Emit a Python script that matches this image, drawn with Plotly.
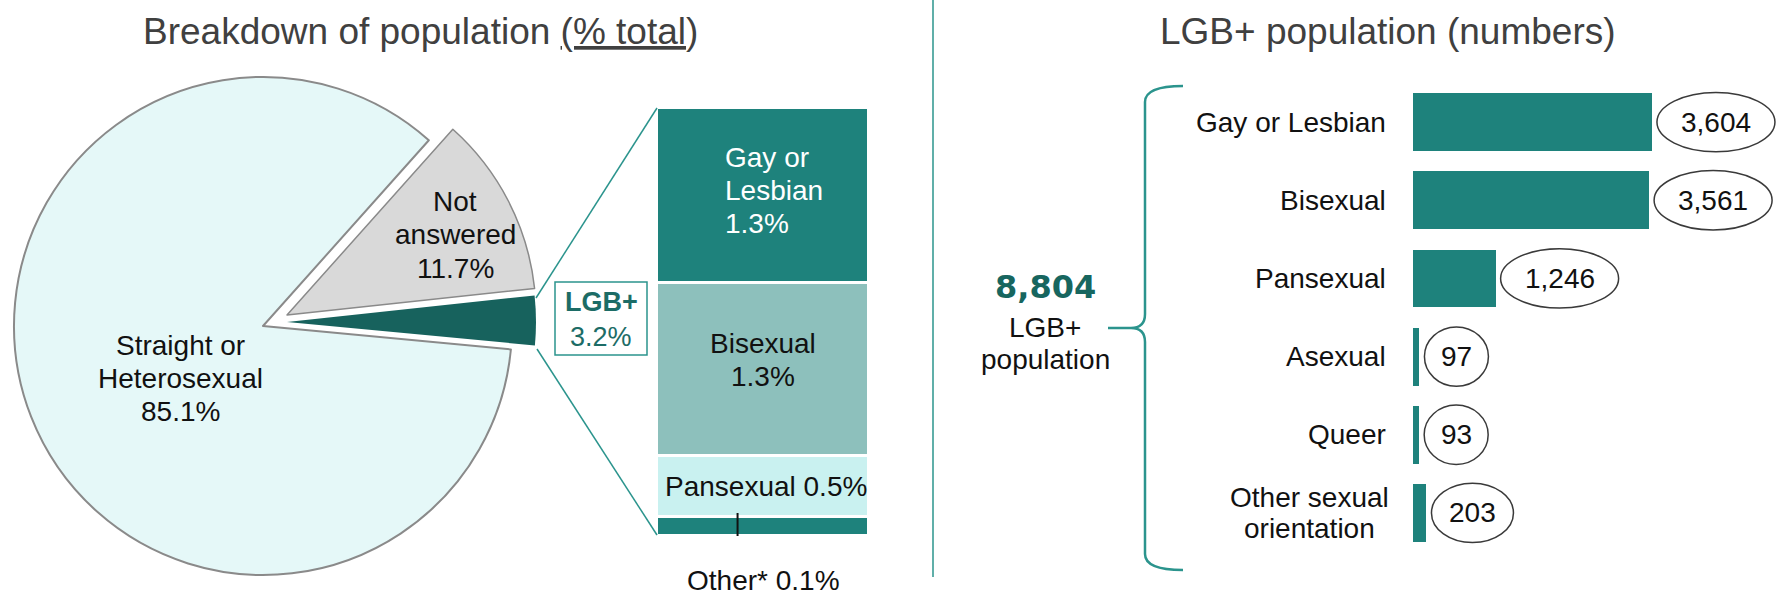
import plotly.graph_objects as go

W, H = 1777, 597

# ---------------- data ----------------
pie_labels = ["Straight or Heterosexual", "LGB+", "Not answered"]
pie_values = [85.1, 3.2, 11.7]
pie_text = [["Straight or", "Heterosexual", "85.1%"], ["<b>LGB+</b>", "3.2%"], ["Not", "answered", "11.7%"]]

stack_labels = ["Gay or Lesbian", "Bisexual", "Pansexual", "Other*"]
stack_pct = ["1.3%", "1.3%", "0.5%", "0.1%"]

lgb_categories = ["Gay or Lesbian", "Bisexual", "Pansexual", "Asexual", "Queer", "Other sexual orientation"]
lgb_tick_labels = [["Gay or Lesbian"], ["Bisexual"], ["Pansexual"], ["Asexual"], ["Queer"],
                   ["Other sexual", "orientation"]]
lgb_counts = [3604, 3561, 1246, 97, 93, 203]
lgb_total_label = "8,804"

# stacked column: first three categories, the rest grouped as "Other*"
stack_values = lgb_counts[:3] + [sum(lgb_counts[3:])]
stack_total = sum(stack_values)

# ---------------- helpers / styles ----------------
def px(x):
    return x / W

def py(y):
    return 1 - y / H

FONT = "Arial, Liberation Sans, sans-serif"
TEAL = "#1e827c"
DARK_TEAL = "#17625d"
LINE_TEAL = "#2b948d"
TITLE_GREY = "#404040"

fig = go.Figure()

# ---------------- pie (each slice drawn from its own centre) ----------------
R = 249
slice_centres = [(263, 326), (287, 322), (287, 315)]
slice_colors = ["#e5f8f8", DARK_TEAL, "#d9d9d9"]
slice_line_w = [2, 0, 1.5]
for i, (cx, cy) in enumerate(slice_centres):
    cols = ["rgba(0,0,0,0)"] * 3
    cols[i] = slice_colors[i]
    lw = [0, 0, 0]
    lw[i] = slice_line_w[i]
    fig.add_trace(go.Pie(
        values=pie_values, labels=pie_labels, sort=False,
        direction="counterclockwise", rotation=95.4,
        marker=dict(colors=cols, line=dict(color="#8a8a8a", width=lw)),
        textinfo="none", hoverinfo="skip", showlegend=False,
        domain=dict(x=[px(cx - R), px(cx + R)], y=[py(cy + R), py(cy - R)]),
    ))

# ---------------- stacked column ----------------
stack_colors = [TEAL, "#8dc0bc", "#c9f1f0", TEAL]
for lab, val, col in zip(stack_labels, stack_values, stack_colors):
    fig.add_trace(go.Bar(
        x=[0], y=[val], name=lab, marker=dict(color=col, line=dict(color="white", width=3)),
        width=1, xaxis="x2", yaxis="y2", showlegend=False, hoverinfo="skip",
    ))

# ---------------- horizontal bars ----------------
fig.add_trace(go.Bar(
    y=lgb_categories, x=lgb_counts, orientation="h",
    marker=dict(color=TEAL, line=dict(width=0)), width=0.74,
    showlegend=False, hoverinfo="skip", xaxis="x", yaxis="y",
))

annotations = []
shapes = []


def ann(text, x, y, size=28, color="#111", xref="paper", yref="paper", **kw):
    d = dict(text=text, x=x, y=y, xref=xref, yref=yref, showarrow=False,
             xanchor="center", yanchor="middle",
             font=dict(family=kw.pop("family", FONT), size=size, color=color))
    d.update(kw)
    annotations.append(d)


def ann_lines(lines, x, y, spacing=33, yshift=0, **kw):
    n = len(lines)
    for k, line in enumerate(lines):
        ann(line, x, y, yshift=yshift - (k - (n - 1) / 2) * spacing, **kw)


# titles
ann("Breakdown of population <u>(% total</u>)", px(420), py(31), size=37, color=TITLE_GREY)
ann("LGB+ population (numbers)", px(1388), py(31), size=37, color=TITLE_GREY)

# pie labels
ann_lines(pie_text[0], px(180), py(378))
ann_lines(pie_text[2], px(455), py(235))

# LGB+ box
shapes.append(dict(type="rect", xref="paper", yref="paper", x0=px(555), x1=px(647), y0=py(355), y1=py(282),
                   line=dict(color=LINE_TEAL, width=1.5), fillcolor="white"))
ann_lines(pie_text[1], px(601), py(319), spacing=35, size=27, color="#1c6c66")

# connector lines
shapes.append(dict(type="line", xref="paper", yref="paper", x0=px(536), y0=py(298), x1=px(657), y1=py(108),
                   line=dict(color=LINE_TEAL, width=1.5)))
shapes.append(dict(type="line", xref="paper", yref="paper", x0=px(537), y0=py(349), x1=px(657), y1=py(535),
                   line=dict(color=LINE_TEAL, width=1.5)))

# stacked column labels
cum = 0
mids = []
for v in stack_values:
    mids.append(cum + v / 2)
    cum += v
ann_lines(["Gay or", "Lesbian", stack_pct[0]], 0, mids[0], color="white", xref="x2", yref="y2",
          xanchor="left", xshift=-40, yshift=5)
ann_lines([stack_labels[1], stack_pct[1]], 0, mids[1], xref="x2", yref="y2", yshift=10)
ann(stack_labels[2] + " " + stack_pct[2], 0, mids[2], xref="x2", yref="y2", xshift=3)
ann(stack_labels[3] + " " + stack_pct[3], 0, stack_total, xref="x2", yref="y2", yshift=-44)
shapes.append(dict(type="line", xref="x2", yref="y2", x0=-0.12, x1=-0.12, y0=cum - stack_values[3] - 80,
                   y1=stack_total, line=dict(color="#111", width=2)))

# divider
shapes.append(dict(type="line", xref="paper", yref="paper", x0=px(933), x1=px(933), y0=py(0), y1=py(577),
                   line=dict(color=LINE_TEAL, width=1.5)))

# brace
bx, top, bot, tipy, tipx = 1145, 86, 570, 328, 1108
brace = (f"M {px(1183)},{py(top)} Q {px(bx)},{py(top)} {px(bx)},{py(top + 16)} "
         f"L {px(bx)},{py(tipy - 14)} Q {px(bx)},{py(tipy)} {px(bx - 14)},{py(tipy)} "
         f"L {px(tipx)},{py(tipy)} M {px(bx - 14)},{py(tipy)} Q {px(bx)},{py(tipy)} {px(bx)},{py(tipy + 14)} "
         f"L {px(bx)},{py(bot - 16)} Q {px(bx)},{py(bot)} {px(1183)},{py(bot)}")
shapes.append(dict(type="path", xref="paper", yref="paper", path=brace,
                   line=dict(color=LINE_TEAL, width=2.5)))

ann("<b>" + lgb_total_label + "</b>", px(1045), py(287), size=32, color="#17665f", family="DejaVu Sans")
ann_lines(["LGB+", "population"], px(1045), py(343), spacing=32)

# category labels and value ellipses
for i, (cat, lab, v) in enumerate(zip(lgb_categories, lgb_tick_labels, lgb_counts)):
    if len(lab) == 1:
        ann(lab[0], px(1388), cat, yref="y", xanchor="right")
    else:
        ann_lines(lab, px(1309), cat, spacing=31, yref="y")
    txt = f"{v:,}"
    w = 64 + (len(txt) - 2) * 18
    shapes.append(dict(type="circle", xref="x", yref="y", xsizemode="pixel", xanchor=v,
                       x0=5, x1=5 + w, y0=i - 0.38, y1=i + 0.38,
                       line=dict(color="#3a3a3a", width=1.5), fillcolor="rgba(0,0,0,0)"))
    ann(txt, v, cat, xref="x", yref="y", xshift=5 + w / 2)

fig.update_layout(
    width=W, height=H, autosize=False,
    margin=dict(l=0, r=0, t=0, b=0),
    paper_bgcolor="white", plot_bgcolor="rgba(0,0,0,0)",
    barmode="stack", bargap=0,
    showlegend=False,
    xaxis=dict(domain=[px(1413), 1.0], range=[0, 5490], visible=False, fixedrange=True),
    yaxis=dict(domain=[py(552), py(83)], range=[5.5, -0.5], type="category",
               categoryorder="array", categoryarray=lgb_categories, visible=False, fixedrange=True),
    xaxis2=dict(domain=[px(657), px(869)], range=[-0.5, 0.5], visible=False, fixedrange=True),
    yaxis2=dict(domain=[py(536), py(108)], range=[stack_total, 0], visible=False, fixedrange=True),
    annotations=annotations,
    shapes=shapes,
)

fig.write_html("out.html", config={"displayModeBar": False},
               post_script="document.body.style.margin='0';document.body.style.overflow='hidden';")
